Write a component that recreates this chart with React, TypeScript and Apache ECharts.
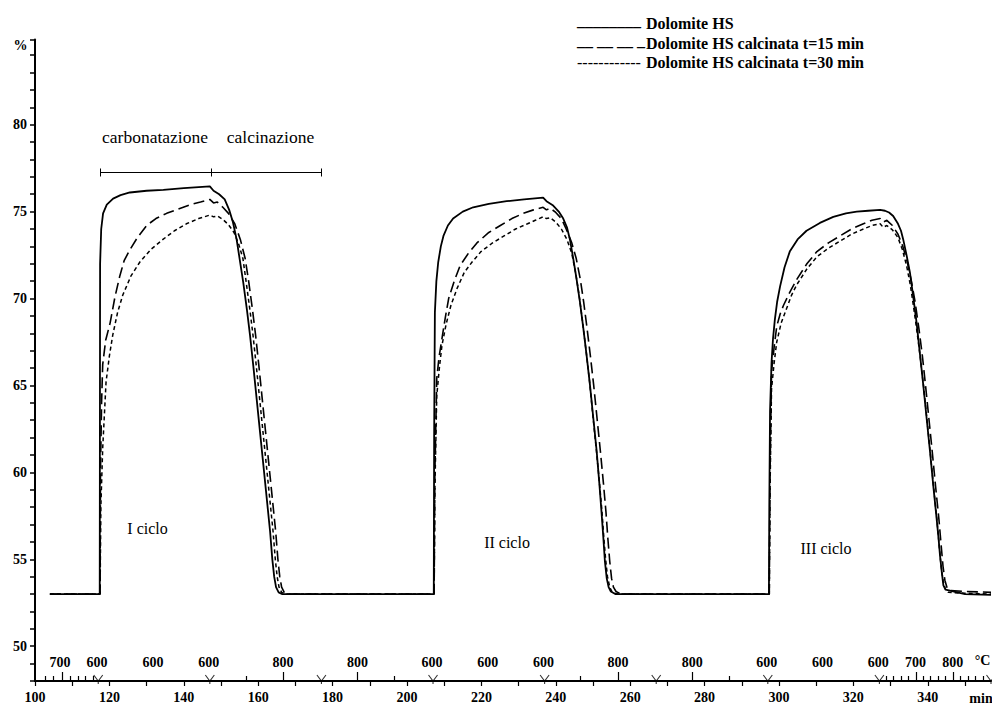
import React, { useEffect, useRef } from 'react';
import * as echarts from 'echarts';

const seriesNames = ['Dolomite HS', 'Dolomite HS calcinata t=15 min', 'Dolomite HS calcinata t=30 min'];

// time (min), weight (%)
const hsData: [number, number][] = [
  [104, 53.0], [117.4, 53.0],
  [117.5, 72.0], [117.8, 74.0], [118.3, 74.9], [119.3, 75.4], [121, 75.75], [123, 75.95], [125.5, 76.1], [130, 76.2], [134.5, 76.25], [140, 76.35], [147, 76.45],
  [148, 76.2], [149.5, 76.0], [151, 75.7], [152.2, 75.1], [153.2, 74.4], [154.2, 73.4], [155, 72.3], [156, 70.9], [157, 69.3], [157.8, 67.9], [158.7, 66.1], [159.6, 64.2], [160.5, 62.3], [161.4, 60.4], [162.3, 58.5], [163.2, 56.6], [163.8, 55.0], [164.3, 54.0], [164.8, 53.4], [165.5, 53.1], [166.5, 53.0],
  [207.2, 53.0],
  [207.3, 62.0], [207.5, 69.2], [207.9, 71.0], [208.4, 72.1], [209.1, 73.0], [209.8, 73.6], [211, 74.2], [212.4, 74.6], [215, 75.0], [217.8, 75.25], [222, 75.45], [226.8, 75.6], [231.5, 75.7], [236.6, 75.8],
  [237.5, 75.6], [239.3, 75.35], [240.8, 75.0], [242, 74.6], [243, 74.1], [243.8, 73.4], [244.7, 72.3], [245.6, 71.1], [246.5, 69.8], [247.4, 68.3], [248.3, 66.7], [249.2, 65.0], [250.1, 63.1], [251, 61.2], [251.7, 59.4], [252.3, 57.7], [252.8, 56.2], [253.2, 54.9], [253.7, 53.9], [254.2, 53.4], [254.8, 53.15], [256, 53.0],
  [297.3, 53.0],
  [297.4, 58.0], [297.6, 63.5], [298, 66.3], [298.4, 67.7], [298.9, 68.8], [299.5, 69.8], [300.3, 70.7], [301.5, 71.8], [302.9, 72.7], [305, 73.4], [307.4, 73.9], [311, 74.35], [314.6, 74.7], [318, 74.9], [320.9, 75.0], [324, 75.05], [327.2, 75.1],
  [328.5, 75.05], [329.6, 74.95], [330.7, 74.75], [332, 74.3], [332.8, 73.9], [333.4, 73.4], [334.3, 72.5], [335.2, 71.5], [336.1, 70.1], [337, 68.6], [337.9, 66.8], [338.8, 65.0], [339.7, 63.1], [340.6, 61.2], [341.5, 59.2], [342.4, 57.3], [342.9, 56.2], [343.3, 55.2], [343.8, 54.2], [344.2, 53.5], [344.8, 53.25], [346.8, 53.15], [350, 53.0], [357, 52.95],
];

const hs15Data: [number, number][] = [
  [104, 53.0], [117.5, 53.0],
  [117.6, 60.0], [117.9, 64.0], [118.2, 66.2], [119, 67.6], [120.2, 68.6], [121.5, 70.1], [122.8, 71.3], [124, 72.2], [125.5, 72.8], [127.5, 73.5], [130, 74.2], [132.5, 74.6], [135.4, 74.9], [138.5, 75.15], [141.7, 75.4], [144.5, 75.55], [147, 75.7],
  [148, 75.5], [149, 75.55], [150.5, 75.25], [152, 74.9], [153.7, 74.3], [155.2, 73.4], [156.5, 72.3], [157.5, 70.9], [158.5, 69.3], [159.3, 67.9], [160.2, 66.1], [161.1, 64.2], [162, 62.3], [162.9, 60.4], [163.8, 58.5], [164.7, 56.6], [165.3, 55.0], [165.8, 54.0], [166.3, 53.4], [167, 53.1], [168, 53.0],
  [207.3, 53.0],
  [207.5, 60.0], [208, 65.4], [208.6, 66.6], [209.4, 67.7], [210.3, 68.9], [211.2, 70.0], [212.7, 71.0], [214.3, 71.9], [216.5, 72.6], [218.8, 73.2], [222, 73.8], [225.1, 74.2], [228.2, 74.6], [231.3, 74.9], [234, 75.1], [236.6, 75.25],
  [237.5, 75.1], [238.5, 75.2], [240, 74.95], [241.5, 74.6], [242.8, 74.0], [244.3, 73.2], [245.5, 72.3], [246.6, 71.1], [247.5, 69.8], [248.4, 68.3], [249.3, 66.7], [250.2, 65.0], [251.1, 63.1], [252, 61.2], [252.8, 59.4], [253.5, 57.7], [254, 56.2], [254.5, 54.9], [255, 53.9], [255.5, 53.4], [256.2, 53.15], [257.5, 53.0],
  [297.4, 53.0],
  [297.6, 60.0], [298, 65.8], [298.7, 67.2], [299.4, 68.4], [300.3, 69.1], [301.2, 69.6], [303, 70.4], [304.8, 71.1], [307.5, 72.0], [310.2, 72.7], [313.3, 73.2], [316.4, 73.6], [319.5, 74.0], [322.7, 74.3], [325, 74.5], [327.2, 74.6],
  [328, 74.4], [329, 74.5], [330.5, 74.2], [332, 73.7], [333.3, 73.0], [334.5, 72.1], [335.6, 71.0], [336.6, 69.8], [337.6, 68.3], [338.5, 66.8], [339.4, 65.0], [340.3, 63.1], [341.2, 61.2], [342.1, 59.2], [343, 57.3], [343.6, 55.8], [344.1, 54.6], [344.6, 53.8], [345.2, 53.35], [346, 53.2], [350, 53.15], [357, 53.1],
];

const hs30Data: [number, number][] = [
  [104, 53.0], [117.5, 53.0],
  [117.7, 58.0], [118.2, 61.4], [119.1, 65.2], [120, 66.7], [120.9, 67.9], [122.2, 69.2], [123.6, 70.2], [125.8, 71.3], [128.2, 72.1], [131.3, 72.85], [134.4, 73.4], [137.5, 73.9], [140.7, 74.3], [144, 74.6], [147, 74.8],
  [148, 74.7], [149, 74.75], [150.5, 74.55], [152, 74.25], [153.5, 73.8], [154.8, 73.1], [155.9, 72.3], [156.8, 70.9], [157.8, 69.3], [158.6, 67.9], [159.5, 66.1], [160.4, 64.2], [161.3, 62.3], [162.2, 60.4], [163.1, 58.5], [164, 56.6], [164.6, 55.0], [165.1, 54.0], [165.6, 53.4], [166.3, 53.1], [167.5, 53.0],
  [207.3, 53.0],
  [207.5, 59.0], [208, 64.4], [208.7, 66.0], [209.4, 67.3], [210.5, 68.5], [211.8, 69.6], [213.5, 70.6], [215.4, 71.5], [217.5, 72.1], [219.9, 72.7], [223, 73.2], [226.1, 73.6], [229.2, 74.0], [232.4, 74.3], [234.5, 74.5], [236.6, 74.7],
  [237.5, 74.6], [238.5, 74.65], [240, 74.4], [241.5, 74.0], [243, 73.4], [244.3, 72.6], [245.4, 71.4], [246.4, 70.0], [247.3, 68.5], [248.2, 66.9], [249.1, 65.2], [250, 63.2], [250.9, 61.3], [251.7, 59.5], [252.4, 57.8], [252.9, 56.3], [253.4, 55.0], [253.9, 54.0], [254.5, 53.4], [255.2, 53.1], [256.5, 53.0],
  [297.4, 53.0],
  [297.6, 59.0], [298, 64.8], [298.7, 66.3], [299.4, 67.5], [300.6, 68.6], [302, 69.4], [303.4, 70.2], [304.8, 70.8], [307.5, 71.7], [310.2, 72.4], [313.3, 72.9], [316.4, 73.3], [319.5, 73.7], [322.7, 74.0], [325, 74.2], [327.2, 74.3],
  [328, 74.1], [329, 74.2], [330.5, 73.95], [332, 73.5], [333.2, 72.8], [334.3, 71.9], [335.3, 70.8], [336.2, 69.5], [337.1, 68.1], [338, 66.6], [338.9, 64.9], [339.8, 63.0], [340.7, 61.1], [341.6, 59.1], [342.5, 57.2], [343.1, 55.7], [343.6, 54.6], [344.1, 53.8], [344.7, 53.3], [345.5, 53.1], [350, 53.05], [357, 53.0],
];

// axes
const xMin = 100;
const xMax = 357;
const yMin = 48;
const yMax = 84.9;
const yLabelValues = [50, 55, 60, 65, 70, 75, 80];

// temperature program (°C) along the time axis
const tempLabelTimes = [106.7, 116.7, 131.7, 146.7, 166.7, 186.7, 206.7, 221.7, 236.7, 256.7, 276.7, 296.7, 311.7, 326.7, 336.7, 346.7];
const tempLabels = ['700', '600', '600', '600', '800', '800', '600', '600', '600', '800', '800', '600', '600', '600', '700', '800'];
const tempTicksShort = [102.8, 105, 109.4, 111.6, 113.6, 115.6, 156.7, 196.7, 246.7, 286.7, 328.8, 330.8, 332.8, 334.8, 338.8, 340.8, 342.8, 344.8, 348.8, 350.8, 352.8, 354.8];
const tempTicksTall = [107.2, 166.7, 186.7, 256.7, 276.7, 336.8, 346.8];
const programMarks = [117, 147, 177, 207, 237, 267, 297, 327, 357];

// phase bracket (carbonatazione / calcinazione)
const bracketTimes = [117.5, 147.5, 177];
const bracketLevel = 77.25;
const bracketHalf = 0.23;

const FONT = '"Liberation Serif", "Times New Roman", serif';

export default function App() {
  const ref = useRef<HTMLDivElement>(null);

  useEffect(() => {
    if (!ref.current) return;
    const chart = echarts.init(ref.current, undefined, { renderer: 'svg', width: 992, height: 706 });

    const bracketLines: any[] = [
      [{ coord: [bracketTimes[0], bracketLevel] }, { coord: [bracketTimes[2], bracketLevel] }],
      ...bracketTimes.map((t) => [
        { coord: [t, bracketLevel - bracketHalf] },
        { coord: [t, bracketLevel + bracketHalf] },
      ]),
    ];

    const tempLabelFor = (v: number) => {
      let best = 0;
      let d = Infinity;
      tempLabelTimes.forEach((t, i) => {
        const dd = Math.abs(t - v);
        if (dd < d) { d = dd; best = i; }
      });
      return tempLabels[best];
    };

    const txt = (text: string, x: number, y: number, size: number, align: string = 'center', weight: string = 'bold') => ({
      type: 'text',
      x,
      y,
      silent: true,
      style: { text, align, verticalAlign: 'middle', fontSize: size, fontFamily: FONT, fontWeight: weight, fill: '#000' },
    });

    const tickFont = { color: '#000', fontFamily: FONT, fontWeight: 'bold', fontSize: 14 };

    chart.setOption({
      animation: false,
      backgroundColor: '#fff',
      textStyle: { fontFamily: FONT, color: '#000' },
      grid: { left: 35, right: 1, top: 39.5, bottom: 25, containLabel: false },
      xAxis: [
        {
          type: 'value',
          min: xMin,
          max: xMax,
          interval: 10,
          position: 'bottom',
          axisLine: { show: true, onZero: false, lineStyle: { color: '#000', width: 2 } },
          axisTick: { show: true, inside: false, length: 5, lineStyle: { color: '#000', width: 1.2 } },
          axisLabel: {
            show: true,
            margin: 9,
            showMaxLabel: false,
            formatter: (v: number) => (Math.round(v) % 20 === 0 ? String(Math.round(v)) : ''),
            ...tickFont,
          },
          splitLine: { show: false },
        },
        {
          type: 'value',
          min: xMin,
          max: xMax,
          position: 'bottom',
          axisLine: { show: false, onZero: false },
          axisTick: { show: true, inside: true, length: 5, customValues: tempTicksShort, lineStyle: { color: '#000', width: 1.2 } },
          axisLabel: {
            show: true,
            inside: true,
            margin: 12,
            customValues: tempLabelTimes,
            formatter: (v: number) => tempLabelFor(v),
            ...tickFont,
          },
          splitLine: { show: false },
        },
        {
          type: 'value',
          min: xMin,
          max: xMax,
          position: 'bottom',
          axisLine: { show: false, onZero: false },
          axisTick: { show: true, inside: true, length: 9, customValues: tempTicksTall, lineStyle: { color: '#000', width: 1.2 } },
          axisLabel: { show: false },
          splitLine: { show: false },
        },
      ],
      yAxis: {
        type: 'value',
        min: yMin,
        max: yMax,
        interval: 1,
        axisLine: { show: true, onZero: false, lineStyle: { color: '#000', width: 2 } },
        axisTick: { show: true, inside: false, length: 5, lineStyle: { color: '#000', width: 1.5 } },
        axisLabel: {
          margin: 8,
          formatter: (v: number) => (yLabelValues.includes(Math.round(v)) && Math.abs(v - Math.round(v)) < 1e-6 ? String(Math.round(v)) : ''),
          ...tickFont,
        },
        splitLine: { show: false },
      },
      series: [
        {
          name: seriesNames[0],
          type: 'line',
          data: hsData,
          showSymbol: false,
          lineStyle: { color: '#000', width: 1.8, type: 'solid' },
          z: 3,
          markLine: {
            silent: true,
            symbol: ['none', 'none'],
            label: { show: false },
            lineStyle: { color: '#000', width: 1, type: 'solid' },
            data: bracketLines,
          },
        },
        {
          name: seriesNames[1],
          type: 'line',
          data: hs15Data,
          showSymbol: false,
          lineStyle: { color: '#000', width: 1.6, type: [11, 5] },
          z: 2,
        },
        {
          name: seriesNames[2],
          type: 'line',
          data: hs30Data,
          showSymbol: false,
          lineStyle: { color: '#000', width: 1.5, type: [4, 3] },
          z: 2,
        },
        {
          name: 'program',
          type: 'scatter',
          data: programMarks.map((t) => [t, yMin]),
          symbol: 'path://M0,0 L4.5,6 L9,0 M4.5,6 L4.5,9',
          symbolSize: [9, 9],
          symbolOffset: [0, -1.5],
          itemStyle: { color: 'none', borderColor: '#000', borderWidth: 1.1 },
          clip: false,
          silent: true,
          z: 4,
        },
      ],
      graphic: [
        txt('%', 20.5, 45, 14),
        txt('min', 981, 698, 14),
        txt('°C', 982.5, 660, 14),
        txt('carbonatazione', 155, 137, 17.5, 'center', 'normal'),
        txt('calcinazione', 270.5, 137, 17.5, 'center', 'normal'),
        txt('I ciclo', 147.5, 528, 16, 'center', 'normal'),
        txt('II ciclo', 507, 542, 16, 'center', 'normal'),
        txt('III ciclo', 826, 548, 16, 'center', 'normal'),
        txt('________', 577, 20, 16, 'left'),
        txt(seriesNames[0], 646, 23, 16, 'left'),
        txt('__ __ __ _', 577, 40, 16, 'left'),
        txt(seriesNames[1], 646, 43, 16, 'left'),
        txt('------------', 577, 62, 16, 'left', 'normal'),
        txt(seriesNames[2], 646, 62, 16, 'left'),
      ],
    });

    return () => chart.dispose();
  }, []);

  return <div ref={ref} style={{ position: 'fixed', left: 0, top: 0, width: 992, height: 706, background: '#fff' }} />;
}
